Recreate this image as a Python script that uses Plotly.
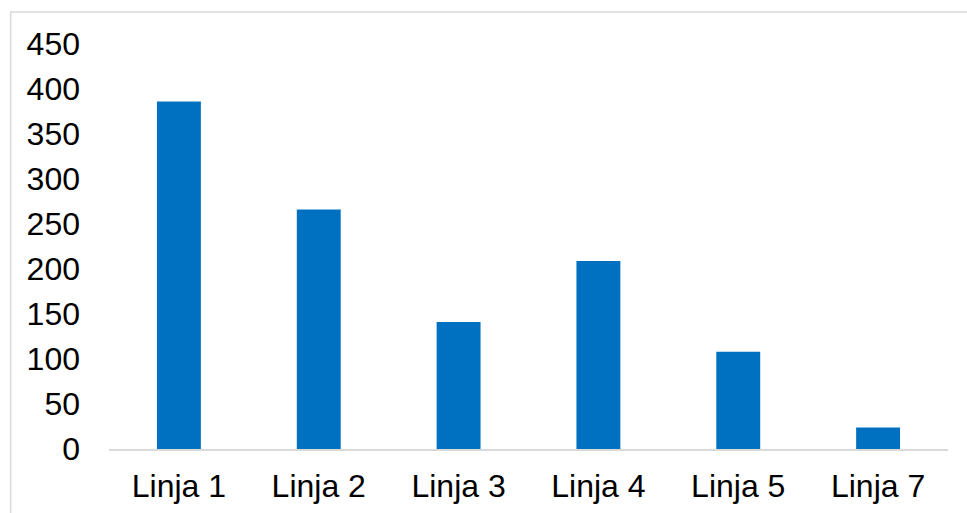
import plotly.graph_objects as go

categories = ["Linja 1", "Linja 2", "Linja 3", "Linja 4", "Linja 5", "Linja 7"]
values = [386, 266, 141, 209, 108, 24]
y_ticks = [0, 50, 100, 150, 200, 250, 300, 350, 400, 450]

W, H = 967, 513
left, right, top, bottom = 108.5, 18.5, 44, 64
plot_w = W - left - right
plot_h = H - top - bottom

fig = go.Figure(
    go.Bar(
        x=categories,
        y=values,
        marker=dict(color="#0070C0", line=dict(width=0)),
        width=0.314,
    )
)

# outer chart frame (light grey, runs off the right and bottom edges)
frame_x0 = (10 - left) / plot_w
frame_y1 = (H - bottom - 12) / plot_h
fig.add_shape(
    type="rect", xref="paper", yref="paper",
    x0=frame_x0, x1=1.5, y0=-0.5, y1=frame_y1,
    line=dict(color="#D9D9D9", width=1.5), fillcolor="rgba(0,0,0,0)",
    layer="below",
)

fig.update_layout(
    width=W, height=H,
    margin=dict(l=left, r=right, t=top, b=bottom, pad=0),
    paper_bgcolor="white", plot_bgcolor="white",
    font=dict(family="Liberation Sans, Arial, sans-serif", size=32, color="#000000"),
    showlegend=False,
    xaxis=dict(
        showline=True, linecolor="#D9D9D9", linewidth=1.5,
        showgrid=False, ticks="", ticklabelstandoff=8,
        tickfont=dict(size=32), automargin=False,
    ),
    yaxis=dict(
        range=[0, 450], tickvals=y_ticks,
        showgrid=False, zeroline=False, showline=False,
        ticks="", ticklabelstandoff=28,
        tickfont=dict(size=32), automargin=False,
    ),
)

fig.write_html("out.html")
